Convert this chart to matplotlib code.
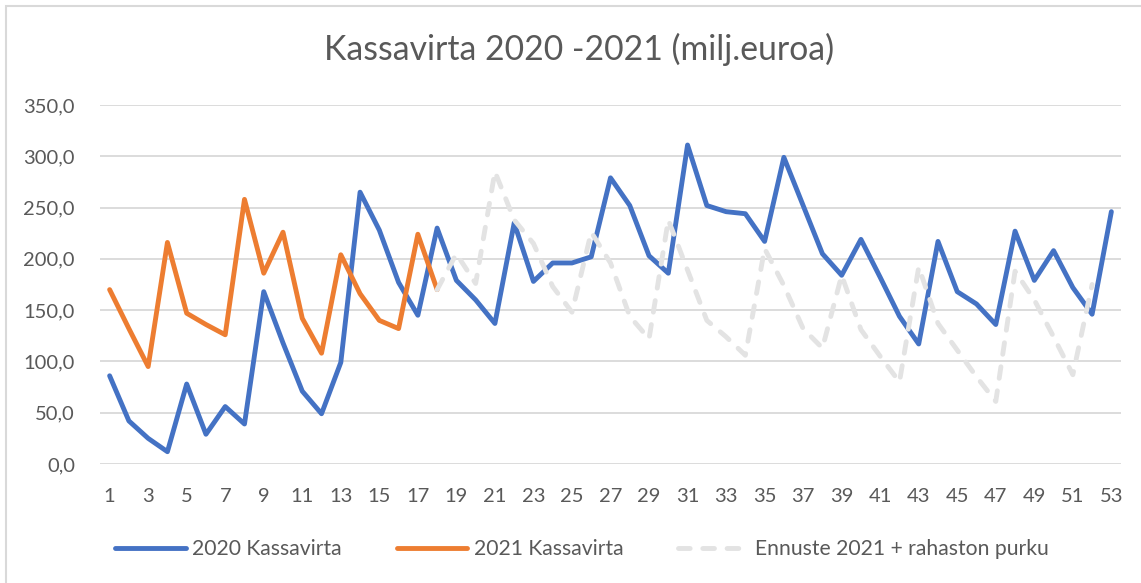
import numpy as np
from matplotlib import pyplot as plt
from matplotlib.patches import Rectangle
from matplotlib.ticker import FuncFormatter

plt.rcParams['font.family'] = ['Lato', 'DejaVu Sans']

weeks = list(range(1, 54))

kassavirta_2020 = [86, 42, 25, 12, 78, 29, 56, 39, 168, 118, 71, 49, 99, 265, 228, 177,
                   145, 230, 179, 160, 137, 235, 178, 196, 196, 202, 279, 252, 203, 186,
                   311, 252, 246, 244, 217, 299, 252, 205, 184, 219, 182, 144, 117, 217,
                   168, 156, 136, 227, 179, 208, 172, 146, 246]

kassavirta_2021 = [170, 132, 95, 216, 147, 136, 126, 258, 186, 226, 142, 108, 204, 166,
                   140, 132, 224, 170]

# forecast runs from week 18 to week 52
ennuste_2021 = [170, 205, 176, 285, 238, 215, 173, 148, 226, 196, 144, 122, 238, 189,
                140, 124, 106, 210, 174, 132, 113, 184, 131, 105, 80, 192, 137, 111, 85,
                61, 188, 160, 124, 87, 175]

blue = '#4472C4'
orange = '#ED7D31'
grey = '#D9D9D9'
text_col = '#595959'

fig = plt.figure(figsize=(11.41, 5.83), dpi=100)
W, H = 1141, 583
ax = fig.add_axes([100 / W, (H - 464) / H, (1121 - 100) / W, (464 - 105) / H])

# chart area border
fig.patches.append(Rectangle((6 / W, -0.1), 1.2, (H - 6) / H + 0.1, transform=fig.transFigure,
                             fill=False, edgecolor='#D9D9D9', linewidth=1.5))

ax.plot(weeks, kassavirta_2020, color=blue, lw=3.5, solid_capstyle='round',
        solid_joinstyle='round', label='2020 Kassavirta', zorder=3)
ax.plot(weeks[:len(kassavirta_2021)], kassavirta_2021, color=orange, lw=3.5,
        solid_capstyle='round', solid_joinstyle='round', label='2021 Kassavirta', zorder=4)
ax.plot(weeks[17:17 + len(ennuste_2021)], ennuste_2021, color='#E3E3E3', lw=3.5,
        dashes=(2.4, 2.6), dash_capstyle='round', dash_joinstyle='round',
        label='Ennuste 2021 + rahaston purku', zorder=5)

ax.set_xlim(0.5, 53.5)
ax.set_ylim(0, 350)
ax.set_yticks(range(0, 351, 50))
ax.set_xticks(weeks[::2])
ax.yaxis.set_major_formatter(FuncFormatter(lambda v, p: f'{v:.1f}'.replace('.', ',')))
ax.grid(axis='y', color=grey, lw=1.3)
ax.set_axisbelow(True)
for s in ax.spines.values():
    s.set_visible(False)
ax.tick_params(length=0, labelsize=14.5, colors=text_col)
ax.tick_params(axis='y', pad=18)
ax.tick_params(axis='x', pad=17)

fig.text(579 / W, 1 - 49 / H, 'Kassavirta 2020 -2021 (milj.euroa)', ha='center', va='center',
         fontsize=24.3, color=text_col)

leg = ax.legend(loc='center', bbox_to_anchor=(582 / W, 1 - 549 / H),
                bbox_transform=fig.transFigure, ncol=3, frameon=False, fontsize=15.2,
                handlelength=3.35, handletextpad=0.3, columnspacing=2.6)
for t in leg.get_texts():
    t.set_color(text_col)

plt.savefig('out.png', dpi=100)
